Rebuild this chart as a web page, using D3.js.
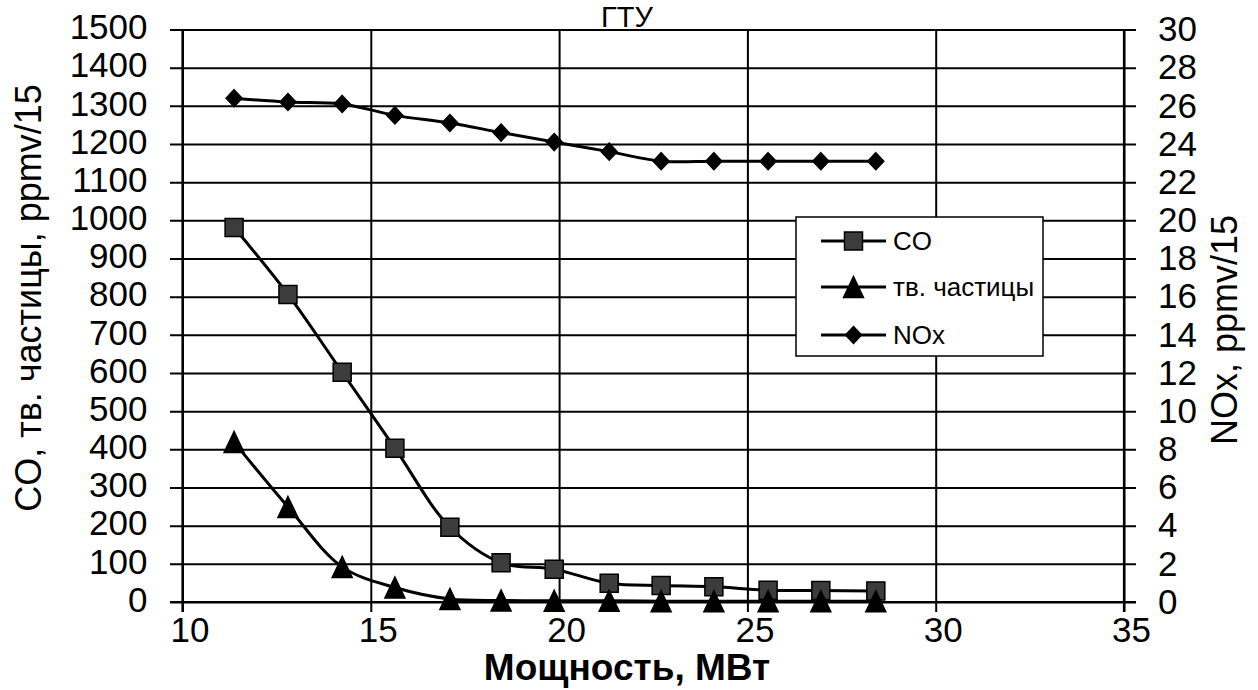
<!DOCTYPE html>
<html>
<head>
<meta charset="utf-8">
<script src="https://cdn.jsdelivr.net/npm/d3@7/dist/d3.min.js"></script>
<style>
  body { margin: 0; background: #fff; }
  svg { display: block; font-family: "Liberation Sans", Arial, sans-serif; }
  .grid line { stroke: #000; stroke-width: 2; }
  .grid path, .labels path { display: none; }
  .labels text { font-size: 35px; fill: #000; }
  .axis-line { stroke: #000; stroke-width: 2.2; }
  .series { fill: none; stroke: #000; stroke-width: 3; }
  .legend-text { font-size: 26px; }
</style>
</head>
<body>
<svg id="chart" width="1258" height="690"></svg>
<script>
// power output, MW
const power = [11.37, 12.80, 14.24, 15.64, 17.10, 18.46, 19.87, 21.33, 22.71, 24.11, 25.55, 26.95, 28.41];
// left axis series, ppmv/15
const coVals = [981, 806, 602, 403, 196, 103, 86, 49, 43, 40, 31, 30, 29];
const particleVals = [419, 249, 92, 38, 8, 4, 3, 3, 2, 2, 2, 2, 2];
// right axis series, ppmv/15
const noxVals = [26.4, 26.2, 26.1, 25.5, 25.1, 24.6, 24.1, 23.6, 23.1, 23.1, 23.1, 23.1, 23.1];

const powerTicks = [10, 15, 20, 25, 30, 35];
const leftTicks = [0, 100, 200, 300, 400, 500, 600, 700, 800, 900, 1000, 1100, 1200, 1300, 1400, 1500];
const rightTicks = [0, 2, 4, 6, 8, 10, 12, 14, 16, 18, 20, 22, 24, 26, 28, 30];

const seriesNames = ['CO', 'тв. частицы', 'NOx'];

const svg = d3.select('#chart');
svg.append('rect').attr('width', 1258).attr('height', 690).attr('fill', '#fff');

const plot = {left: 182.5, right: 1124, top: 29.5, bottom: 602};

const x = d3.scaleLinear().domain([10, 35]).range([plot.left, plot.right]);
const y = d3.scaleLinear().domain([0, 1500]).range([plot.bottom, plot.top]);
const yNox = d3.scaleLinear().domain([0, 30]).range([plot.bottom, plot.top]);

// horizontal grid, sticking out past both axes as tick marks
svg.append('g').attr('class', 'grid')
  .attr('transform', 'translate(170,0)')
  .call(d3.axisLeft(y).tickValues(leftTicks).tickSize(-(1136 - 170)).tickFormat(''));

// vertical grid, with short ticks below the x axis
svg.append('g').attr('class', 'grid')
  .attr('transform', 'translate(0,612)')
  .call(d3.axisBottom(x).tickValues(powerTicks).tickSize(-(612 - plot.top)).tickFormat(''));

svg.append('line').attr('class', 'axis-line')
  .attr('x1', plot.left).attr('x2', plot.left).attr('y1', plot.top).attr('y2', 612);
svg.append('line').attr('class', 'axis-line')
  .attr('x1', plot.right).attr('x2', plot.right).attr('y1', plot.top).attr('y2', 612);
svg.append('line').attr('class', 'axis-line')
  .attr('x1', 170).attr('x2', 1136).attr('y1', plot.bottom).attr('y2', plot.bottom);

// tick labels
const fmt = d3.format('d');
svg.append('g').attr('class', 'labels')
  .attr('transform', 'translate(' + plot.left + ',-2)')
  .call(d3.axisLeft(y).tickValues(leftTicks).tickSize(0).tickPadding(35).tickFormat(fmt));
svg.append('g').attr('class', 'labels')
  .attr('transform', 'translate(' + plot.right + ',0)')
  .call(d3.axisRight(yNox).tickValues(rightTicks).tickSize(0).tickPadding(34).tickFormat(fmt));
svg.append('g').attr('class', 'labels')
  .attr('transform', 'translate(7,' + plot.bottom + ')')
  .call(d3.axisBottom(x).tickValues(powerTicks).tickSize(0).tickPadding(15).tickFormat(fmt));

// series
const coData = power.map((p, i) => ({p: p, v: coVals[i]}));
const partData = power.map((p, i) => ({p: p, v: particleVals[i]}));
const noxData = power.map((p, i) => ({p: p, v: noxVals[i]}));

const lineLeft = d3.line().x(d => x(d.p)).y(d => y(d.v)).curve(d3.curveCatmullRom);
const lineRight = d3.line().x(d => x(d.p)).y(d => yNox(d.v)).curve(d3.curveCatmullRom);

svg.append('path').attr('class', 'series').attr('d', lineLeft(partData));
svg.append('path').attr('class', 'series').attr('d', lineLeft(coData));
svg.append('path').attr('class', 'series').attr('d', lineRight(noxData));

// marker shapes, centred on their bounding box
const squarePath = 'M-9,-9H9V9H-9Z';
const trianglePath = 'M0,-10.5L10,10.5L-10,10.5Z';
const diamondPath = 'M0,-8.5L8,0L0,8.5L-8,0Z';

function drawMarkers(data, yScale, shape, fill) {
  svg.append('g').selectAll('path').data(data).enter().append('path')
    .attr('d', shape)
    .attr('transform', d => 'translate(' + x(d.p) + ',' + yScale(d.v) + ')')
    .attr('fill', fill)
    .attr('stroke', '#000')
    .attr('stroke-width', 1.5);
}
drawMarkers(coData, y, squarePath, '#3c3c3c');
drawMarkers(partData, y, trianglePath, '#000');
drawMarkers(noxData, yNox, diamondPath, '#000');

// legend
const legend = svg.append('g');
legend.append('rect')
  .attr('x', 796).attr('y', 217).attr('width', 247).attr('height', 139)
  .attr('fill', '#fff').attr('stroke', '#000').attr('stroke-width', 1.5);
const legendShapes = [[squarePath, '#3c3c3c'], [trianglePath, '#000'], [diamondPath, '#000']];
const legendRows = [241, 287, 335];
seriesNames.forEach((name, i) => {
  const ly = legendRows[i];
  legend.append('line').attr('x1', 821).attr('x2', 886).attr('y1', ly).attr('y2', ly)
    .attr('stroke', '#000').attr('stroke-width', 3);
  legend.append('path').attr('d', legendShapes[i][0])
    .attr('transform', 'translate(853.5,' + ly + ')')
    .attr('fill', legendShapes[i][1]).attr('stroke', '#000').attr('stroke-width', 1.5);
  legend.append('text').attr('class', 'legend-text')
    .attr('x', 893).attr('y', ly).attr('dy', '0.35em')
    .text(name);
});

// titles
svg.append('text')
  .attr('x', 627).attr('y', 27)
  .attr('text-anchor', 'middle')
  .style('font-size', '29px')
  .text('ГТУ');

svg.append('text')
  .attr('text-anchor', 'middle')
  .attr('transform', 'translate(28,298)rotate(-90)')
  .attr('dy', '0.35em')
  .style('font-size', '36px')
  .text('CO, тв. частицы, ppmv/15');

svg.append('text')
  .attr('text-anchor', 'middle')
  .attr('transform', 'translate(1224,330)rotate(-90)')
  .attr('dy', '0.35em')
  .style('font-size', '36px')
  .text('NOx, ppmv/15');

svg.append('text')
  .attr('x', 627).attr('y', 680)
  .attr('text-anchor', 'middle')
  .style('font-size', '37px')
  .style('font-weight', 'bold')
  .text('Мощность, МВт');
</script>
</body>
</html>
